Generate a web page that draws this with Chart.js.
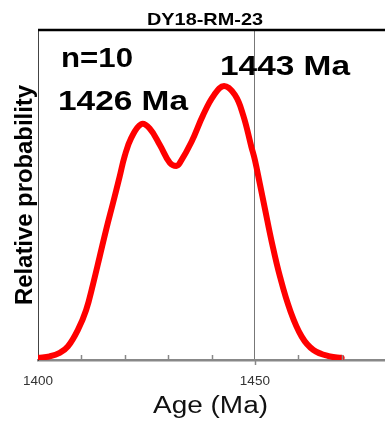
<!DOCTYPE html>
<html>
<head>
<meta charset="utf-8">
<script src="https://cdn.jsdelivr.net/npm/chart.js@4/dist/chart.umd.min.js"></script>
<style>
  html, body { margin: 0; padding: 0; background: #ffffff; }
  #wrap { width: 385px; height: 423px; }
</style>
</head>
<body>
<div id="wrap"><canvas id="c" width="385" height="423"></canvas></div>
<script>
// ---- data ----
const sampleName = "DY18-RM-23";
const countLabel = "n=10";
const peakLabels = ["1426 Ma", "1443 Ma"];
const xAxisTitle = "Age (Ma)";
const yAxisTitle = "Relative probability";
const xTickLabels = [1400, 1450];
const ages = [1400, 1402.7, 1405, 1406.9, 1409.2, 1411.1, 1412.7, 1414.2, 1415.75, 1417.3, 1418.8, 1420, 1421.5, 1423.8, 1425.75, 1428.1, 1430.4, 1431.9, 1432.7, 1435.4, 1438.06, 1440.6, 1442.9, 1445.4, 1447.3, 1449.2, 1450, 1451.15, 1452.3, 1453.9, 1455.8, 1458.1, 1460.8, 1463.5, 1467.3, 1470];
const probs = [0, 0.0055, 0.018, 0.042, 0.103, 0.176, 0.272, 0.371, 0.474, 0.57, 0.665, 0.743, 0.809, 0.86, 0.844, 0.783, 0.717, 0.706, 0.717, 0.795, 0.893, 0.967, 1.0, 0.967, 0.893, 0.776, 0.728, 0.64, 0.55, 0.426, 0.298, 0.176, 0.078, 0.029, 0.005, 0];
const markedAge = 1450;

const points = ages.map((a, i) => ({ x: a, y: probs[i] }));

function fitText(ctx, text, x, y, w, font, color) {
  ctx.save();
  ctx.font = font;
  ctx.fillStyle = color;
  ctx.textAlign = 'left';
  ctx.textBaseline = 'alphabetic';
  const m = ctx.measureText(text).width;
  ctx.translate(x, y);
  ctx.scale(w / m, 1);
  ctx.fillText(text, 0, 0);
  ctx.restore();
}

const decor = {
  id: 'decor',
  afterDatasetsDraw(chart) {
    const ctx = chart.ctx;
    const area = chart.chartArea;
    const xs = chart.scales.x;
    ctx.save();
    ctx.strokeStyle = '#888888';
    ctx.lineWidth = 1.5;
    for (let v = 1410; v <= 1470; v += 10) {
      const px = Math.round(xs.getPixelForValue(v)) + 0.5;
      ctx.beginPath();
      if (v === markedAge) {
        ctx.moveTo(px, area.bottom);
        ctx.lineTo(px, area.bottom + 5);
      } else {
        ctx.moveTo(px, area.bottom);
        ctx.lineTo(px, area.bottom - 5);
      }
      ctx.stroke();
    }
    ctx.restore();
    ctx.save();
    ctx.strokeStyle = '#000000';
    ctx.lineWidth = 2.5;
    ctx.beginPath();
    ctx.moveTo(area.left, area.top);
    ctx.lineTo(area.right, area.top);
    ctx.stroke();
    ctx.restore();
  },
  afterDraw(chart) {
    const ctx = chart.ctx;
    const bold = (s) => 'bold ' + s + 'px "Liberation Sans", Arial, sans-serif';
    fitText(ctx, sampleName, 147, 25, 116, bold(17), '#000');
    fitText(ctx, countLabel, 61, 67, 72, bold(28), '#000');
    fitText(ctx, peakLabels[0], 58, 110, 130, bold(28), '#000');
    fitText(ctx, peakLabels[1], 220, 75, 130, bold(28), '#000');
    fitText(ctx, xAxisTitle, 153, 413, 115, '23px "Liberation Sans", Arial, sans-serif', '#111');
    ctx.save();
    ctx.translate(31.5, 305);
    ctx.rotate(-Math.PI / 2);
    fitText(ctx, yAxisTitle, 0, 0, 220, bold(24), '#000');
    ctx.restore();
  }
};

new Chart(document.getElementById('c'), {
  type: 'line',
  data: {
    datasets: [{
      data: points,
      borderColor: '#ff0000',
      borderWidth: 6,
      pointRadius: 0,
      fill: false,
      tension: 0.4,
      borderCapStyle: 'round',
      borderJoinStyle: 'round'
    }]
  },
  options: {
    responsive: false,
    animation: false,
    events: [],
    layout: { padding: { left: 38, top: 30, right: 0, bottom: 0 } },
    plugins: { legend: { display: false }, tooltip: { enabled: false }, title: { display: false } },
    scales: {
      x: {
        type: 'linear',
        min: 1400,
        max: 1480,
        afterFit(scale) { scale.height = 63; scale.paddingRight = 0; scale.paddingLeft = 0; },
        ticks: {
          stepSize: 10,
          autoSkip: false,
          maxRotation: 0,
          padding: 13,
          color: '#333333',
          font: { family: '"Liberation Sans", Arial, sans-serif', size: 13.5 },
          callback: (v) => xTickLabels.includes(v) ? String(v) : ''
        },
        grid: {
          drawOnChartArea: true,
          drawTicks: false,
          lineWidth: 1,
          color: (c) => (c.tick && c.tick.value === markedAge) ? '#777777' : 'rgba(0,0,0,0)'
        },
        border: { display: true, color: '#888888', width: 2.5 }
      },
      y: {
        type: 'linear',
        min: -0.008,
        max: 1.206,
        afterFit(scale) { scale.width = 0; scale.paddingTop = 0; scale.paddingBottom = 0; },
        ticks: { display: false },
        grid: { display: false, drawTicks: false },
        border: { display: true, color: '#444444', width: 1 }
      }
    }
  },
  plugins: [decor]
});
</script>
</body>
</html>
